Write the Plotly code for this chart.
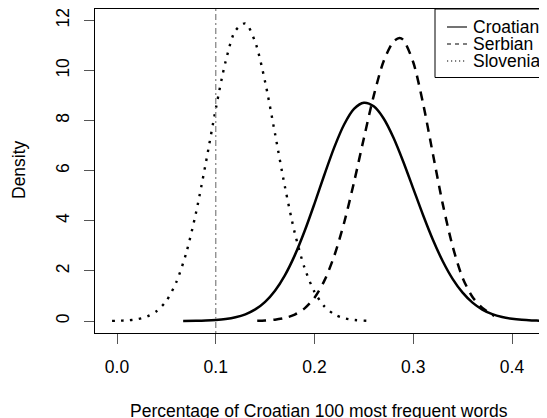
import plotly.graph_objects as go

# ---- data ----
croatian_x = [0.067, 0.08, 0.09, 0.10, 0.11, 0.12, 0.13, 0.14, 0.15, 0.16, 0.17, 0.18, 0.19,
              0.20, 0.21, 0.22, 0.23, 0.24, 0.25, 0.26, 0.27, 0.28, 0.29, 0.30, 0.31, 0.32,
              0.33, 0.34, 0.35, 0.36, 0.37, 0.38, 0.39, 0.40, 0.41, 0.42, 0.43, 0.44]
croatian_y = [0.003, 0.008, 0.018, 0.038, 0.076, 0.146, 0.266, 0.462, 0.766, 1.211, 1.824,
              2.620, 3.590, 4.688, 5.838, 6.931, 7.845, 8.468, 8.713, 8.569, 8.084, 7.315,
              6.349, 5.286, 4.222, 3.234, 2.376, 1.674, 1.132, 0.734, 0.457, 0.272, 0.156,
              0.086, 0.045, 0.023, 0.011, 0.005]

serbian_x = [0.142, 0.15, 0.16, 0.17, 0.18, 0.19, 0.20, 0.21, 0.22, 0.23, 0.24, 0.25, 0.26,
             0.27, 0.28, 0.286, 0.29, 0.30, 0.31, 0.32, 0.33, 0.34, 0.35, 0.36, 0.37, 0.382]
serbian_y = [0.010, 0.022, 0.053, 0.121, 0.255, 0.505, 0.932, 1.610, 2.600, 3.923, 5.535,
             7.298, 8.996, 10.37, 11.16, 11.30, 11.22, 10.33, 8.674, 6.647, 4.646, 2.962,
             1.723, 0.96, 0.52, 0.20]

slovenian_x = [-0.005, 0.00, 0.01, 0.02, 0.03, 0.04, 0.05, 0.06, 0.07, 0.08, 0.09, 0.10,
               0.11, 0.12, 0.13, 0.14, 0.15, 0.16, 0.17, 0.18, 0.19, 0.20, 0.21, 0.22,
               0.23, 0.24, 0.253]
slovenian_y = [0.005, 0.008, 0.025, 0.068, 0.170, 0.387, 0.809, 1.546, 2.703, 4.321, 6.324,
               8.461, 10.36, 11.60, 11.88, 11.13, 9.544, 7.483, 5.367, 3.521, 2.113, 1.160,
               0.583, 0.268, 0.112, 0.043, 0.011]

reference_x = 0.1
x_ticks = [0.0, 0.1, 0.2, 0.3, 0.4]
y_ticks = [0, 2, 4, 6, 8, 10, 12]
legend_labels = ["Croatian", "Serbian", "Slovenian"]

FONT = "Liberation Sans, Arial, Helvetica, sans-serif"
FS = 17.5

fig = go.Figure()
fig.add_trace(go.Scatter(x=croatian_x, y=croatian_y, mode="lines", name="Croatian",
                         line=dict(color="black", width=2.5, shape="spline", smoothing=0.8)))
fig.add_trace(go.Scatter(x=serbian_x, y=serbian_y, mode="lines", name="Serbian",
                         line=dict(color="black", width=2.5, dash="9px,7px",
                                   shape="spline", smoothing=0.8)))
fig.add_trace(go.Scatter(x=slovenian_x, y=slovenian_y, mode="lines", name="Slovenian",
                         line=dict(color="black", width=2.4, dash="2.4px,6.6px",
                                   shape="spline", smoothing=0.8)))

# vertical reference line
fig.add_shape(type="line", xref="x", yref="paper", x0=reference_x, x1=reference_x, y0=0, y1=1,
              line=dict(color="#888888", width=1.3, dash="2px,3px,6px,3px"))

# The page body has an 8px margin, so the figure is laid out 8px smaller
OFF = 8
W, H = 547 - OFF, 418 - OFF
ml, mt, mb = 95 - OFF, 9 - OFF, 85
pw, ph = W - ml, H - mt - mb

def px(xp):  # window pixel -> paper
    return (xp - OFF - ml) / pw

def py(yp):
    return (H - mb - (yp - OFF)) / ph

fig.add_shape(type="rect", xref="paper", yref="paper", x0=px(435), x1=px(600),
              y0=py(77.5), y1=1, line=dict(color="black", width=1), fillcolor="white",
              layer="above")
dashes = ["solid", "4px,4px", "1.2px,2.8px"]
ys = [27, 44, 61]
for lab, d, yy in zip(legend_labels, dashes, ys):
    fig.add_shape(type="line", xref="paper", yref="paper", x0=px(447), x1=px(467),
                  y0=py(yy), y1=py(yy), line=dict(color="black", width=1.1, dash=d),
                  layer="above")
    fig.add_annotation(text=lab, xref="paper", yref="paper", x=px(471), y=py(yy),
                       xanchor="left", yanchor="middle", showarrow=False,
                       font=dict(family=FONT, size=FS, color="black"))

# axis titles
fig.add_annotation(text="Percentage of Croatian 100 most frequent words", xref="paper",
                   yref="paper", x=px(319), y=py(411), xanchor="center", yanchor="middle",
                   showarrow=False, font=dict(family=FONT, size=FS, color="black"))
fig.add_annotation(text="Density", xref="paper", yref="paper", x=px(19), y=py(170),
                   xanchor="center", yanchor="middle", textangle=-90, showarrow=False,
                   font=dict(family=FONT, size=FS, color="black"))

xr0 = -22 / 987.5
xr1 = pw / 987.5 + xr0
fig.update_layout(
    width=W, height=H,
    margin=dict(l=ml, r=0, t=mt, b=mb, pad=0),
    paper_bgcolor="white", plot_bgcolor="white",
    showlegend=False,
    font=dict(family=FONT, size=FS, color="black"),
    xaxis=dict(range=[xr0, xr1], tickvals=x_ticks, ticktext=[f"{v:.1f}" for v in x_ticks],
               showgrid=False, zeroline=False, showline=True, linecolor="black", linewidth=1,
               mirror=True, ticks="outside", ticklen=10, tickcolor="#555", tickwidth=1,
               ticklabelstandoff=8, tickfont=dict(family=FONT, size=FS, color="black")),
    yaxis=dict(range=[-0.479, 12.455], tickvals=y_ticks, ticktext=[str(v) for v in y_ticks],
               showgrid=False, zeroline=False, showline=True, linecolor="black", linewidth=1,
               mirror=False, ticks="outside", ticklen=10, tickcolor="#555", tickwidth=1,
               tickangle=-90, ticklabelstandoff=8,
               tickfont=dict(family=FONT, size=FS, color="black")),
)

fig.write_html("out.html")
